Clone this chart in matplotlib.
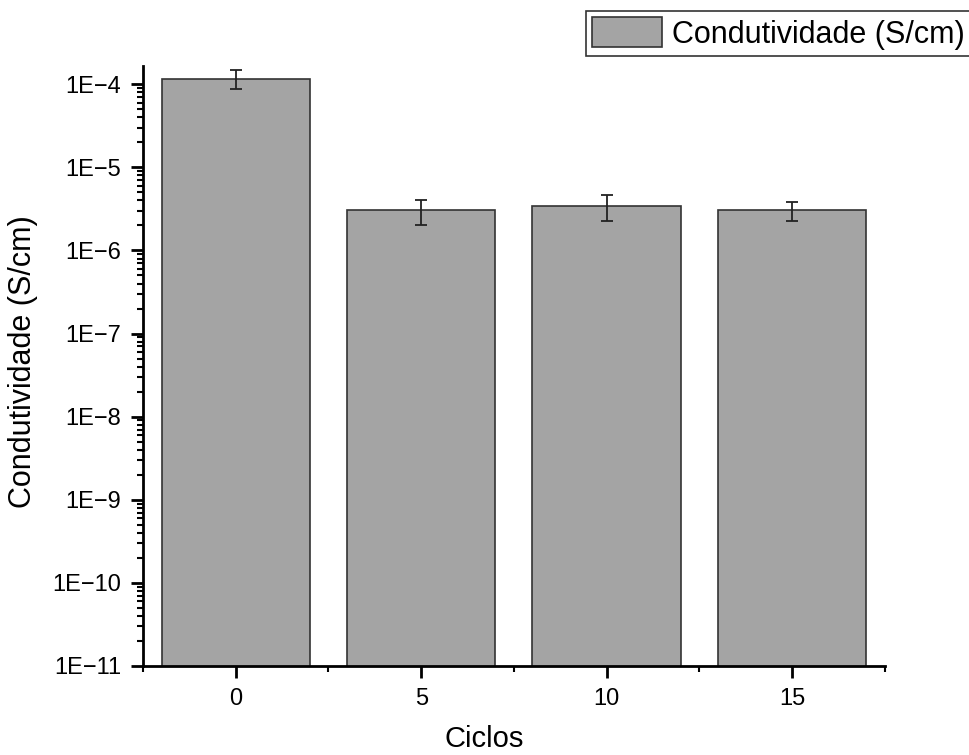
import numpy as np
import matplotlib
matplotlib.use('Agg')
import matplotlib.pyplot as plt
from matplotlib.ticker import LogLocator, FixedLocator, FuncFormatter, NullFormatter

plt.rcParams['font.family'] = ['Liberation Sans', 'DejaVu Sans']

ciclos = [0, 5, 10, 15]
condutividade = [1.17e-4, 3.05e-6, 3.45e-6, 3.05e-6]
erro = [0.30e-4, 1.05e-6, 1.2e-6, 0.78e-6]

fig = plt.figure(figsize=(9.69, 7.55), dpi=100)
ax = fig.add_axes([0.1476, 0.1179, 0.7655, 0.7947])

ax.bar(ciclos, condutividade, width=4, color='#a4a4a4', edgecolor='#333333',
       linewidth=1.2, label='Condutividade (S/cm)', zorder=2)
ax.errorbar(ciclos, condutividade, yerr=erro, fmt='none', ecolor='#222222',
            elinewidth=1.3, capsize=4, capthick=1.3, zorder=3)

ax.set_yscale('log')
ax.set_ylim(1e-11, 10**-3.78)
ax.set_xlim(-2.5, 17.5)

ax.yaxis.set_major_locator(LogLocator(base=10, numticks=20))
ax.yaxis.set_minor_locator(LogLocator(base=10, subs=np.arange(2, 10), numticks=20))
ax.yaxis.set_minor_formatter(NullFormatter())
ax.yaxis.set_major_formatter(FuncFormatter(lambda v, p: '1E\u2212%d' % round(-np.log10(v))))

ax.set_xticks(ciclos)
ax.xaxis.set_minor_locator(FixedLocator([-2.5, 2.5, 7.5, 12.5, 17.5]))

for s in ['top', 'right']:
    ax.spines[s].set_visible(False)
for s in ['left', 'bottom']:
    ax.spines[s].set_linewidth(2)

ax.tick_params(which='major', direction='out', length=8.5, width=2, labelsize=17, pad=7)
ax.tick_params(which='minor', direction='out', length=4.5, width=1.5)

ax.set_xlabel('Ciclos', fontsize=21)
ax.set_ylabel('Condutividade (S/cm)', fontsize=22)
ax.xaxis.set_label_coords(0.5, 1 - 725/755, transform=fig.transFigure)
ax.yaxis.set_label_coords(38/969, 1 - 362/755, transform=fig.transFigure)

leg = ax.legend(loc='upper left', bbox_to_anchor=(586/969, 1 - 11/755),
                bbox_transform=fig.transFigure, fontsize=22, frameon=True,
                fancybox=False, edgecolor='black', borderpad=0.2,
                handlelength=2.3, handleheight=1.15, handletextpad=0.3,
                borderaxespad=0)
leg.get_frame().set_linewidth(1.2)

plt.savefig('out.png', dpi=100)
